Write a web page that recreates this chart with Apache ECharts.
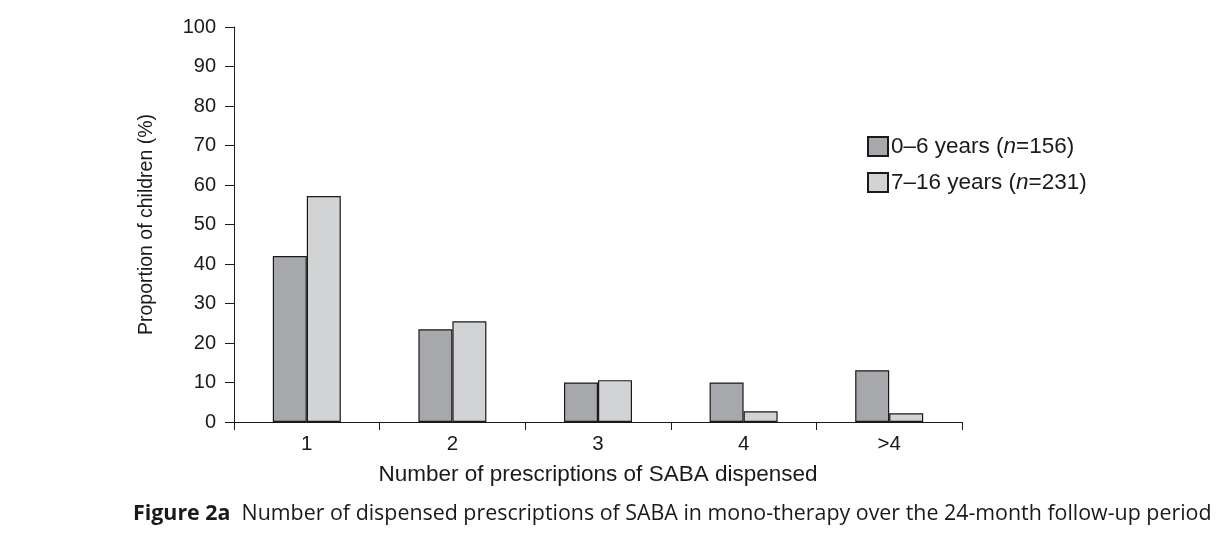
<!DOCTYPE html>
<html><head><meta charset="utf-8">
<script src="https://cdn.jsdelivr.net/npm/echarts@6/dist/echarts.min.js"></script>
<style>html,body{margin:0;padding:0;background:#fff}#c{width:1226px;height:543px}</style>
</head><body><div id="c"></div>
<script>
const categories = ['1', '2', '3', '4', '>4'];
const young = [42, 23.5, 10, 10, 13.1];
const older = [57.2, 25.5, 10.6, 2.7, 2.2];
const seriesNames = ['0–6 years (n=156)', '7–16 years (n=231)'];
const legendLabels = {'0–6 years (n=156)': '0–6 years ({i|n}=156)', '7–16 years (n=231)': '7–16 years ({i|n}=231)'};
const yTicks = {min: 0, max: 100, interval: 10};

const font = 'Liberation Sans';
const ink = '#1a1a1a';
const chart = echarts.init(document.getElementById('c'), null, {renderer: 'canvas'});
chart.setOption({
  animation: false,
  backgroundColor: '#fff',
  grid: {left: 234, right: 264, top: 27, bottom: 121, containLabel: false},
  legend: {
    orient: 'vertical', left: 862, top: 130, itemWidth: 20, itemHeight: 19, itemGap: 13,
    icon: 'rect',
    data: seriesNames,
    formatter: n => legendLabels[n],
    textStyle: {fontFamily: font, fontSize: 22.5, lineHeight: 19, color: ink, padding: [0,0,0,-2],
      rich: {i: {fontStyle: 'italic', fontFamily: font, fontSize: 22.5, lineHeight: 19, color: ink}}}
  },
  xAxis: {
    type: 'category', data: categories,
    name: 'Number of prescriptions of SABA dispensed', nameLocation: 'middle', nameGap: 41,
    nameTextStyle: {fontFamily: font, fontSize: 22.5, color: ink},
    axisLine: {lineStyle: {color: ink, width: 1}},
    axisTick: {show: true, length: 8, lineStyle: {color: ink}},
    axisLabel: {fontFamily: font, fontSize: 20.5, color: ink, margin: 12},
    splitLine: {show: false}
  },
  yAxis: {
    type: 'value', min: yTicks.min, max: yTicks.max, interval: yTicks.interval,
    name: 'Proportion of children (%)', nameLocation: 'middle', nameGap: 77, nameRotate: 90,
    nameTextStyle: {fontFamily: font, fontSize: 19.5, color: ink},
    axisLine: {show: true, lineStyle: {color: ink, width: 1}},
    axisTick: {show: true, length: 9, lineStyle: {color: ink}},
    axisLabel: {fontFamily: font, fontSize: 20, color: ink, margin: 18},
    splitLine: {show: false}
  },
  series: [
    {name: seriesNames[0], type: 'bar', data: young, barWidth: 34, barGap: '0%',
     itemStyle: {color: '#a7a8ab', borderColor: ink, borderWidth: 1.2}},
    {name: seriesNames[1], type: 'bar', data: older, barWidth: 34, barGap: '0%',
     itemStyle: {color: '#d1d3d5', borderColor: ink, borderWidth: 1.2}}
  ],
  graphic: [{
    type: 'text', left: 133, top: 503,
    style: {
      text: '{b|Figure 2a}  Number of dispensed prescriptions of SABA in mono-therapy over the 24-month follow-up period',
      fontFamily: 'Open Sans', fontSize: 21.4, fill: ink,
      rich: {b: {fontFamily: 'Open Sans', fontWeight: 'bold', fontSize: 21.4, fill: ink}}
    }
  }]
});
</script></body></html>
